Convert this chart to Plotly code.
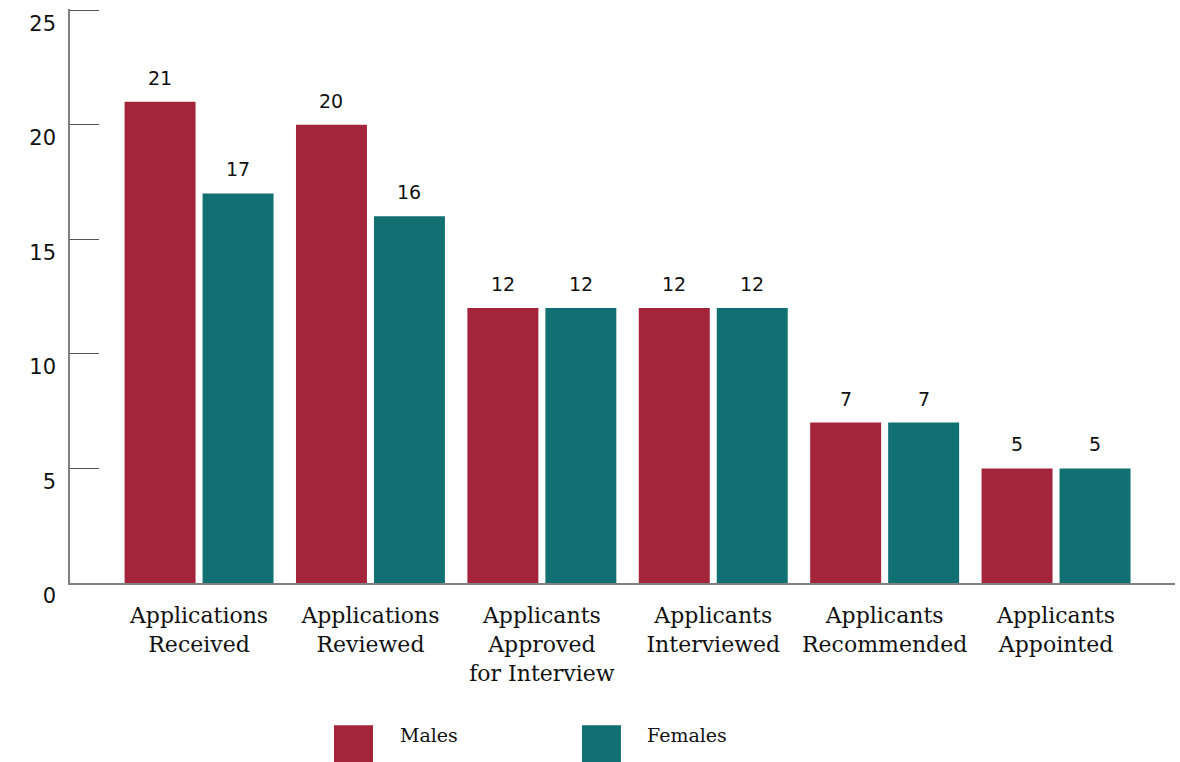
import plotly.graph_objects as go

categories = ["Applications<br>Received", "Applications<br>Reviewed", "Applicants<br>Approved<br>for Interview",
              "Applicants<br>Interviewed", "Applicants<br>Recommended", "Applicants<br>Appointed"]
males = [21, 20, 12, 12, 7, 5]
females = [17, 16, 12, 12, 7, 5]
series_names = ["Males", "Females"]
y_ticks = [0, 5, 10, 15, 20, 25]

MALE_COLOR = "#A3243B"
FEMALE_COLOR = "#117172"
SERIF = "DejaVu Serif"
SANS = "DejaVu Sans"

fig = go.Figure()
fig.add_trace(go.Bar(x=categories, y=males, name=series_names[0], marker_color=MALE_COLOR,
                     marker_line_width=0, showlegend=False))
fig.add_trace(go.Bar(x=categories, y=females, name=series_names[1], marker_color=FEMALE_COLOR,
                     marker_line_width=0, showlegend=False))

BARGAP = 0.09
BARGROUPGAP = 0.09
slot = (1 - BARGAP) / 2
offsets = [-slot / 2, slot / 2]

annotations = []
for vals, off in zip([males, females], offsets):
    for i, v in enumerate(vals):
        annotations.append(dict(x=i + off, y=v, xref="x", yref="y", text=str(v), showarrow=False,
                                yanchor="bottom", yshift=11, font=dict(family=SANS, size=19, color="#111")))

# legend (drawn manually)
legend_items = [(series_names[0], MALE_COLOR, 0.2389), (series_names[1], FEMALE_COLOR, 0.4633)]
shapes = []
for name, col, x0 in legend_items:
    shapes.append(dict(type="rect", xref="paper", yref="paper", x0=x0, x1=x0 + 0.0353,
                       y0=-0.3124, y1=-0.2478, fillcolor=col, line_width=0))
    annotations.append(dict(x=x0 + 0.0575, y=-0.265, xref="paper", yref="paper", text=name,
                            showarrow=False, xanchor="left", yanchor="middle",
                            font=dict(family=SERIF, size=19, color="#111")))

fig.update_layout(
    width=1180, height=762,
    margin=dict(l=70, r=5, t=9, b=179),
    plot_bgcolor="white", paper_bgcolor="white",
    barmode="group", bargap=BARGAP, bargroupgap=BARGROUPGAP,
    annotations=annotations, shapes=shapes,
    showlegend=False,
)
fig.update_xaxes(type="category", range=[-0.753, 5.694], showline=True, linecolor="#808080", linewidth=2,
                 ticks="", showgrid=False, zeroline=False,
                 tickfont=dict(family=SERIF, size=22, color="#111"), ticklabelstandoff=12)
fig.update_yaxes(range=[0, 25.05], tickvals=y_ticks, showline=True, linecolor="#808080", linewidth=1.5,
                 ticks="inside", ticklen=29, tickcolor="#555", tickwidth=1, showgrid=False, zeroline=False,
                 tickfont=dict(family=SANS, size=21, color="#111"), ticklabelshift=13, ticklabelstandoff=8)

fig.write_html("out.html")
